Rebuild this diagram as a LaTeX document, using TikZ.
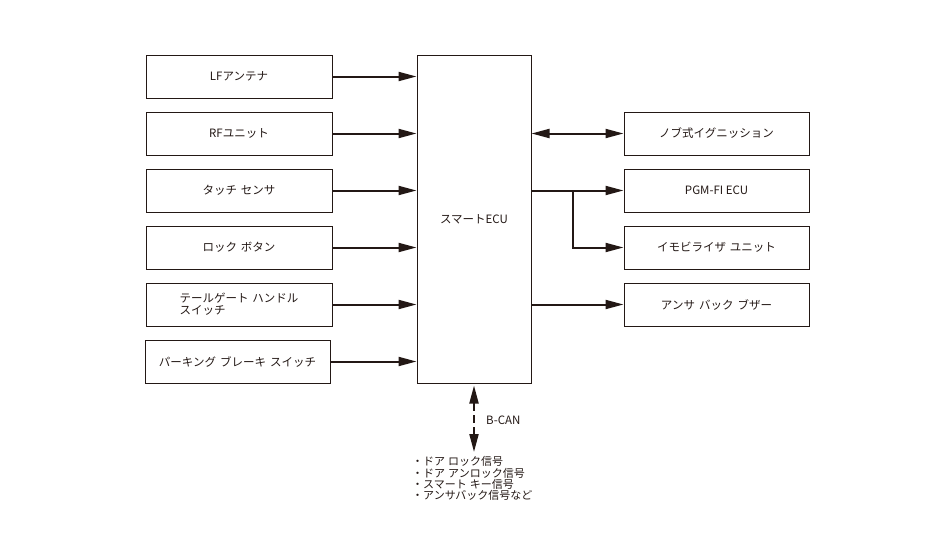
\documentclass[tikz,border=0pt]{standalone}
\usepackage{fontspec}
\setmainfont{Noto Sans CJK JP}
\usetikzlibrary{arrows.meta}
\definecolor{ink}{HTML}{231815}
\begin{document}
\begin{tikzpicture}[x=1pt,y=-1pt,
  box/.style={draw=ink, line width=1pt, minimum width=186pt, minimum height=43pt, inner sep=0pt,
    font=\fontsize{11.5}{12}\selectfont, text=ink},
  arr/.style={draw=ink, line width=2pt, -{Triangle[length=18pt,width=9pt]}},
  darr/.style={draw=ink, line width=2pt, {Triangle[length=18pt,width=9pt]}-{Triangle[length=18pt,width=9pt]}},
  lbl/.style={inner sep=0pt, text=ink},
]
\useasboundingbox (0,0) rectangle (950,546);
% left boxes
\node[box] (lf) at (239,76.5) {LFアンテナ};
\node[box] (rf) at (239,133.5) {RFユニット};
\node[box] (touch) at (239,190.5) {タッチ\hspace{4pt}センサ};
\node[box] (lock) at (239,247.5) {ロック\hspace{4pt}ボタン};
\node[box, align=left] (tail) at (239,304.5) {テールゲート\hspace{4pt}ハンドル\\スイッチ};
\node[box, minimum width=185pt] (park) at (237.5,361.5) {パーキング\hspace{4pt}ブレーキ\hspace{4pt}スイッチ};
% ECU
\node[box, minimum width=114pt, minimum height=328pt] (ecu) at (474,219) {スマートECU};
% right boxes
\node[box, minimum width=185pt] (knob) at (716.5,133.5) {ノブ式イグニッション};
\node[box, minimum width=185pt] (pgm) at (716.5,190.5) {PGM-FI ECU};
\node[box, minimum width=185pt] (immo) at (716.5,247.5) {イモビライザ\hspace{4pt}ユニット};
\node[box, minimum width=185pt] (buzz) at (716.5,304.5) {アンサ\hspace{4pt}バック\hspace{4pt}ブザー};
% left arrows
\foreach \n in {lf,rf,touch,lock,tail,park}
  \draw[arr] (\n.east) -- (\n.east -| ecu.west);
% right connectors
\draw[darr] (knob.west -| ecu.east) -- (knob.west);
\draw[arr] (pgm.west -| ecu.east) -- (pgm.west);
\coordinate (br) at (573,190.5);
\draw[arr] (br) |- (immo.west);
\draw[arr] (buzz.west -| ecu.east) -- (buzz.west);
% B-CAN
\coordinate (can) at (474,452);
\draw[darr, dash pattern=on 8pt off 4pt] ([yshift=-2pt]ecu.south) -- (can);
\node[lbl, anchor=west, font=\fontsize{11.5}{12}\selectfont] (bcan) at (486,420) {B-CAN};
\node[lbl, anchor=west, align=left, font=\fontsize{11}{11.3}\selectfont] (list) at (412,478.5)
  {・ドア\hspace{3pt}ロック信号\\・ドア\hspace{3pt}アンロック信号\\・スマート\hspace{3pt}キー信号\\・アンサバック信号など};
\end{tikzpicture}
\end{document}
